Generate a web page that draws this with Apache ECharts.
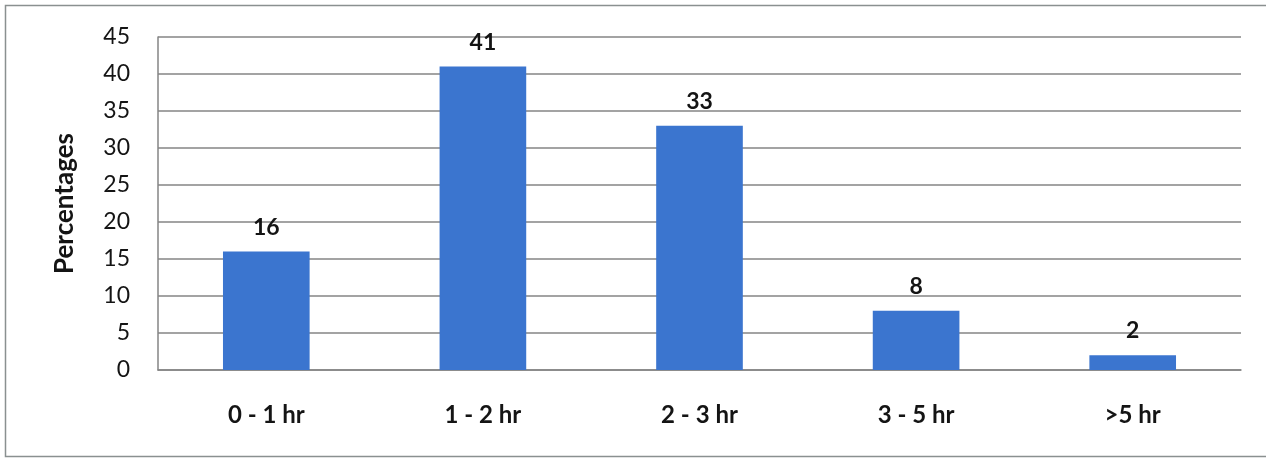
<!DOCTYPE html>
<html>
<head>
<meta charset="utf-8">
<script src="https://cdn.jsdelivr.net/npm/echarts@6/dist/echarts.min.js"></script>
<style>
  html, body { margin: 0; padding: 0; background: #fff; }
  #chart { width: 1266px; height: 459px; }
</style>
</head>
<body>
<div id="chart"></div>
<script>
// Time spent per day, share of respondents (%)
const categories = ['0 - 1 hr', '1 - 2 hr', '2 - 3 hr', '3 - 5 hr', '>5 hr'];
const percentages = [16, 41, 33, 8, 2];
const yTicks = { min: 0, max: 45, interval: 5 };
const yAxisTitle = 'Percentages';

const FONT = 'Lato, "Open Sans", sans-serif';
const INK = '#141414';
const chart = echarts.init(document.getElementById('chart'));

chart.setOption({
  animation: false,
  graphic: [{
    type: 'rect',
    shape: { x: 5.5, y: 5.5, width: 1300, height: 451 },
    style: { fill: 'none', stroke: '#8a9090', lineWidth: 1.5 },
    silent: true
  }],
  grid: { left: 158, top: 37, right: 25, bottom: 89, containLabel: false },
  xAxis: {
    type: 'category',
    data: categories,
    axisLine: { show: true, lineStyle: { color: '#858585', width: 1.5 } },
    axisTick: { show: false },
    axisLabel: { color: INK, fontFamily: FONT, fontSize: 24, fontWeight: 'bold', margin: 33 }
  },
  yAxis: {
    type: 'value',
    min: yTicks.min, max: yTicks.max, interval: yTicks.interval,
    name: yAxisTitle,
    nameLocation: 'middle',
    nameGap: 80,
    nameTextStyle: { color: INK, fontFamily: FONT, fontSize: 26, fontWeight: 'bold' },
    axisLine: { show: true, lineStyle: { color: '#858585', width: 1.5 } },
    axisTick: { show: false },
    axisLabel: { color: INK, fontFamily: FONT, fontSize: 23, margin: 28 },
    splitLine: { show: true, lineStyle: { color: '#858585', width: 1.5 } }
  },
  series: [{
    type: 'bar',
    data: percentages,
    barWidth: '40%',
    itemStyle: { color: '#3b75cf' },
    label: {
      show: true, position: 'top', distance: 13,
      color: INK, fontFamily: FONT, fontSize: 23, fontWeight: 'bold'
    }
  }]
});
</script>
</body>
</html>
